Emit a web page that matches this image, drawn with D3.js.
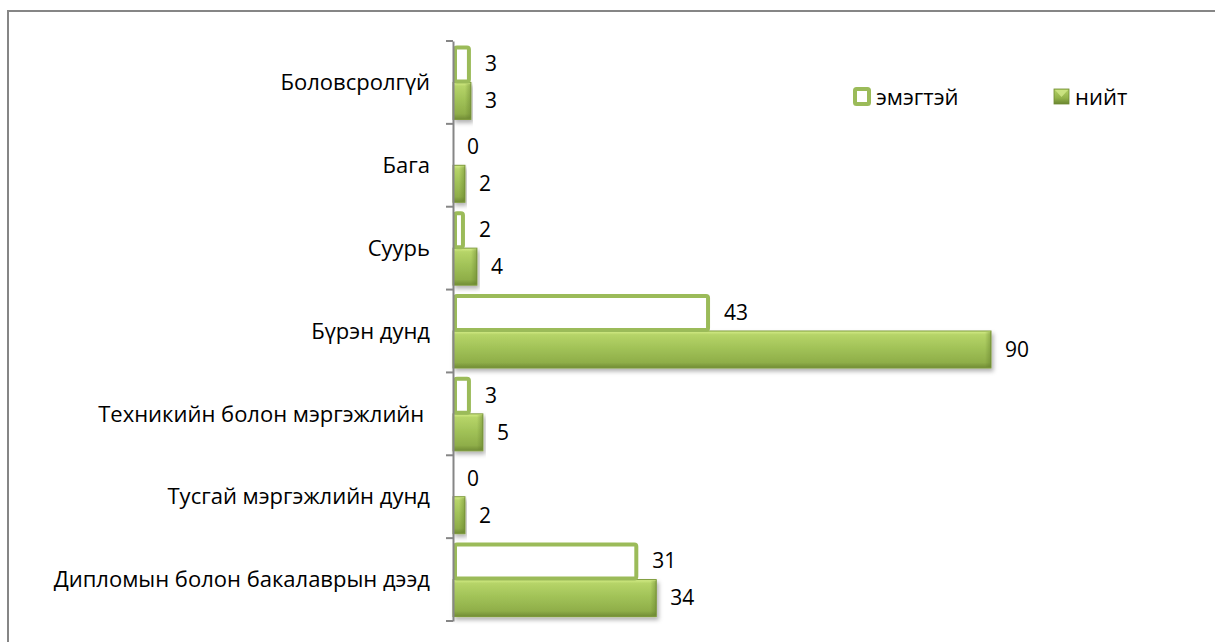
<!DOCTYPE html>
<html>
<head>
<meta charset="utf-8">
<script src="https://cdn.jsdelivr.net/npm/d3@7"></script>
<style>
  body { margin: 0; background: #fff; }
  text { font-family: "Open Sans", "Noto Sans", sans-serif; fill: #000; }
</style>
</head>
<body>
<script>
var categories = ["Боловсролгүй", "Бага", "Суурь", "Бүрэн дунд",
  "Техникийн болон мэргэжлийн ", "Тусгай мэргэжлийн дунд", "Дипломын болон бакалаврын дээд"];
var seriesNames = ["эмэгтэй", "нийт"];
var female = [3, 0, 2, 43, 3, 0, 31];
var total = [3, 2, 4, 90, 5, 2, 34];

var svgwidth = 1215, svgheight = 642;
var axisX = 453;

var svg = d3.select("body").append("svg")
    .attr("width", svgwidth)
    .attr("height", svgheight);

var defs = svg.append("defs");
var grad = defs.append("linearGradient")
    .attr("id", "barGrad").attr("x1", 0).attr("y1", 0).attr("x2", 0).attr("y2", 1);
[["0%", "#d6ee88"], ["10%", "#b6d468"], ["45%", "#a2c358"], ["85%", "#8fae49"], ["100%", "#718c35"]]
  .forEach(function (s) { grad.append("stop").attr("offset", s[0]).attr("stop-color", s[1]); });
var endGrad = defs.append("linearGradient")
    .attr("id", "endGrad").attr("x1", 0).attr("y1", 0).attr("x2", 1).attr("y2", 0);
endGrad.append("stop").attr("offset", "0%").attr("stop-color", "#5f7a2a").attr("stop-opacity", 0);
endGrad.append("stop").attr("offset", "100%").attr("stop-color", "#5f7a2a").attr("stop-opacity", 0.45);
var iconGrad = defs.append("linearGradient")
    .attr("id", "iconGrad").attr("x1", 0).attr("y1", 0).attr("x2", 0).attr("y2", 1);
iconGrad.append("stop").attr("offset", "0%").attr("stop-color", "#b4d266");
iconGrad.append("stop").attr("offset", "60%").attr("stop-color", "#93b24a");
iconGrad.append("stop").attr("offset", "100%").attr("stop-color", "#6a8630");
var shadow = defs.append("filter").attr("id", "shadow")
    .attr("x", "-5%").attr("y", "-20%").attr("width", "115%").attr("height", "160%");
shadow.append("feDropShadow").attr("dx", 2).attr("dy", 3).attr("stdDeviation", 2)
    .attr("flood-color", "#000").attr("flood-opacity", 0.3);

// chart frame (cut off at right and bottom)
svg.append("rect")
    .attr("x", 8).attr("y", 11)
    .attr("width", 1400).attr("height", 800)
    .attr("fill", "none").attr("stroke", "#868686").attr("stroke-width", 2);

var x = d3.scaleLinear().domain([0, 90]).range([axisX, 991]);
var y0 = d3.scaleBand().domain(categories).range([41, 621]).padding(0);
var y1 = d3.scaleBand().domain(seriesNames).range([0, y0.bandwidth()])
    .paddingInner(0).paddingOuter(0.12);

var groups = svg.selectAll(".cat")
    .data(categories)
  .enter().append("g")
    .attr("class", "cat")
    .attr("transform", function (d) { return "translate(0," + y0(d) + ")"; });

// нийт bars (bevel-like fill)
groups.append("rect")
    .attr("x", x(0))
    .attr("y", y1("нийт"))
    .attr("width", function (d, i) { return x(total[i]) - x(0); })
    .attr("height", y1.bandwidth())
    .attr("fill", "url(#barGrad)")
    .attr("stroke", "#7d9a3a").attr("stroke-width", 1)
    .attr("filter", "url(#shadow)");
groups.append("rect")
    .attr("x", function (d, i) { return x(total[i]) - 6; })
    .attr("y", y1("нийт") + 1)
    .attr("width", 6)
    .attr("height", y1.bandwidth() - 2)
    .attr("fill", "url(#endGrad)");

// эмэгтэй bars (outline)
groups.filter(function (d, i) { return female[i] > 0; })
  .append("rect")
    .attr("x", x(0) + 2)
    .attr("y", y1("эмэгтэй") + 2)
    .attr("width", function (d) { return x(female[categories.indexOf(d)]) - x(0) - 4; })
    .attr("height", y1.bandwidth() - 3)
    .attr("rx", 2)
    .attr("fill", "#fff")
    .attr("stroke", "#9bbb59").attr("stroke-width", 4);

// value labels
groups.append("text")
    .attr("x", function (d, i) { return x(female[i]) + 14; })
    .attr("y", y1("эмэгтэй") + y1.bandwidth() / 2)
    .attr("dy", "0.35em")
    .style("font-size", "21px")
    .text(function (d, i) { return female[i]; });
groups.append("text")
    .attr("x", function (d, i) { return x(total[i]) + 14; })
    .attr("y", y1("нийт") + y1.bandwidth() / 2)
    .attr("dy", "0.35em")
    .style("font-size", "21px")
    .text(function (d, i) { return total[i]; });

// category axis
var axis = svg.append("g")
    .attr("transform", "translate(" + axisX + ",0)")
    .call(d3.axisLeft(y0).tickSize(0).tickFormat(""));
axis.select(".domain").attr("stroke", "#868686").attr("stroke-width", 2);
axis.selectAll(".tick").remove();
var edges = categories.map(function (c) { return y0(c); }).concat([y0.range()[1]]);
axis.selectAll(".edge")
    .data(edges)
  .enter().append("line")
    .attr("x1", -7).attr("x2", 0)
    .attr("y1", function (d) { return d; })
    .attr("y2", function (d) { return d; })
    .attr("stroke", "#868686").attr("stroke-width", 2);

groups.append("text")
    .attr("x", 430)
    .attr("y", y0.bandwidth() / 2)
    .attr("dy", "0.35em")
    .attr("text-anchor", "end")
    .style("font-size", "22px")
    .style("white-space", "pre")
    .text(function (d) { return d; });

// legend
var legend = svg.append("g");
legend.append("rect")
    .attr("x", 855).attr("y", 89).attr("width", 14).attr("height", 15)
    .attr("rx", 1.5)
    .attr("fill", "#fff").attr("stroke", "#9bbb59").attr("stroke-width", 4);
legend.append("text")
    .attr("x", 876).attr("y", 97).attr("dy", "0.35em")
    .style("font-size", "22px").text(seriesNames[0]);
legend.append("rect")
    .attr("x", 1054).attr("y", 89).attr("width", 15).attr("height", 15)
    .attr("fill", "url(#iconGrad)").attr("stroke", "#6f8a33").attr("stroke-width", 0.8);
legend.append("path")
    .attr("d", "M1055,90 L1068,90 L1061.5,97 Z")
    .attr("fill", "#d2e98a").attr("opacity", 0.8);
legend.append("text")
    .attr("x", 1075).attr("y", 97).attr("dy", "0.35em")
    .style("font-size", "22px").text(seriesNames[1]);
</script>
</body>
</html>
